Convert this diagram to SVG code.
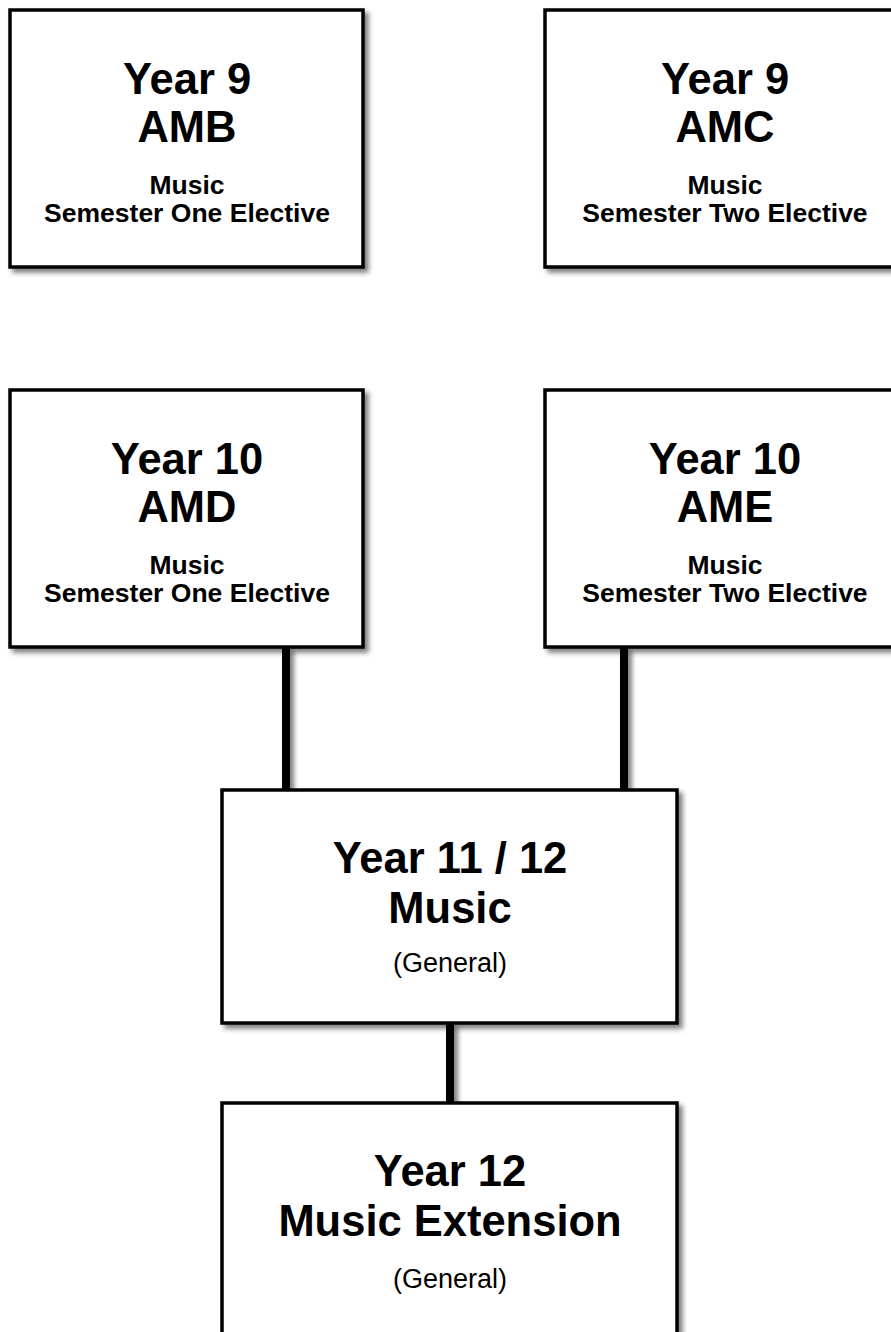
<svg xmlns="http://www.w3.org/2000/svg" width="891" height="1332" viewBox="0 0 891 1332">
<defs>
<filter id="sh" x="-10%" y="-10%" width="130%" height="130%">
<feDropShadow dx="4" dy="4" stdDeviation="2.5" flood-color="#000" flood-opacity="0.5"/>
</filter>
</defs>
<style>
.box{fill:#fff;stroke:#000;stroke-width:3.5}
.t{font-family:"Liberation Sans",Arial,sans-serif;font-weight:bold;font-size:43.5px;text-anchor:middle;fill:#000}
.s{font-family:"Liberation Sans",Arial,sans-serif;font-weight:bold;font-size:26.5px;text-anchor:middle;fill:#000}
.g{font-family:"Liberation Sans",Arial,sans-serif;font-size:27px;text-anchor:middle;fill:#000}
.c{stroke:#000;stroke-width:8;fill:none}
</style>
<rect width="891" height="1332" fill="#fff"/>
<g id="connectors" filter="url(#sh)">
<line class="c" x1="286" y1="647" x2="286" y2="790"/>
<line class="c" x1="624" y1="647" x2="624" y2="790"/>
<line class="c" x1="450" y1="1023" x2="450" y2="1103"/>
</g>
<g id="amb">
<rect class="box" x="10" y="10" width="353" height="257" filter="url(#sh)"/>
<text class="t" x="187" y="94">Year 9</text>
<text class="t" x="187" y="142">AMB</text>
<text class="s" x="187" y="194">Music</text>
<text class="s" x="187" y="222">Semester One Elective</text>
</g>
<g id="amc">
<rect class="box" x="545" y="10" width="360" height="257" filter="url(#sh)"/>
<text class="t" x="725" y="94">Year 9</text>
<text class="t" x="725" y="142">AMC</text>
<text class="s" x="725" y="194">Music</text>
<text class="s" x="725" y="222">Semester Two Elective</text>
</g>
<g id="amd">
<rect class="box" x="10" y="390" width="353" height="257" filter="url(#sh)"/>
<text class="t" x="187" y="474">Year 10</text>
<text class="t" x="187" y="522">AMD</text>
<text class="s" x="187" y="574">Music</text>
<text class="s" x="187" y="602">Semester One Elective</text>
</g>
<g id="ame">
<rect class="box" x="545" y="390" width="360" height="257" filter="url(#sh)"/>
<text class="t" x="725" y="474">Year 10</text>
<text class="t" x="725" y="522">AME</text>
<text class="s" x="725" y="574">Music</text>
<text class="s" x="725" y="602">Semester Two Elective</text>
</g>
<g id="y1112">
<rect class="box" x="222" y="790" width="455" height="233" filter="url(#sh)"/>
<text class="t" x="450" y="873">Year 11 / 12</text>
<text class="t" x="450" y="923">Music</text>
<text class="g" x="450" y="972">(General)</text>
</g>
<g id="y12ext">
<rect class="box" x="222" y="1103" width="455" height="260" filter="url(#sh)"/>
<text class="t" x="450" y="1186">Year 12</text>
<text class="t" x="450" y="1236">Music Extension</text>
<text class="g" x="450" y="1288">(General)</text>
</g>
</svg>
